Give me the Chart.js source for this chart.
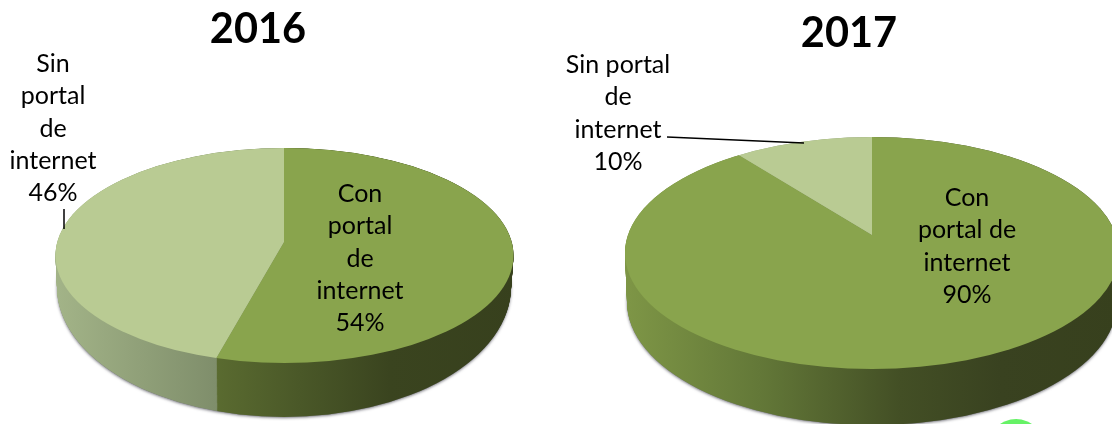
<!DOCTYPE html>
<html>
<head>
<meta charset="utf-8">
<style>
  html, body { margin: 0; padding: 0; background: #fff; overflow: hidden; }
  #page { position: relative; width: 1112px; height: 424px; overflow: hidden; }
  canvas { position: absolute; left: 0; top: 0; }
  #blob { position: absolute; left: 988px; top: 419px; width: 56px; height: 56px; border-radius: 50%; background: #66f266; }
</style>
<script src="https://cdn.jsdelivr.net/npm/chart.js@4"></script>
</head>
<body>
<div id="page">
  <div id="blob"></div>
  <canvas id="pie2016" width="1112" height="424"></canvas>
  <canvas id="pie2017" width="1112" height="424"></canvas>
</div>
<script>
const categories = ['Con portal de internet', 'Sin portal de internet'];
const values2016 = [54, 46];
const values2017 = [90, 10];
const topColors = ['#89a44d', '#b9cb93'];

const labels2016 = [
  { x: 360, y: 194, lines: ['Con', 'portal', 'de', 'internet', '54%'] },
  { x: 53, y: 64, lines: ['Sin', 'portal', 'de', 'internet', '46%'] }
];
const labels2017 = [
  { x: 967, y: 198, lines: ['Con', 'portal de', 'internet', '90%'] },
  { x: 618, y: 65, lines: ['Sin portal', 'de', 'internet', '10%'] }
];

// Plugin: squashes the big flat pie into a tilted disc and extrudes the side wall
const pie3d = {
  id: 'pie3d',
  beforeDatasetsDraw(chart, args, o) {
    const ctx = chart.ctx;
    const arcs = chart.getDatasetMeta(0).data;

    function place(dy) {
      ctx.translate(o.apexX, o.apexY + dy);
      ctx.scale(1, o.k);
      ctx.translate(-arcs[0].x, -arcs[0].y);
    }
    // rim ellipse at step t: 0 is the top face, 1 the bottom of the wall
    function rimPath(t) {
      const mix = (a, b) => a + (b - a) * t;
      ctx.beginPath();
      ctx.ellipse(mix(o.top[0], o.bottom[0]), mix(o.top[1], o.bottom[1]),
        mix(o.top[2], o.bottom[2]), mix(o.top[3], o.bottom[3]), 0, 0, Math.PI * 2);
    }
    function sideGradient(stops) {
      // gradient is given in page x, the arcs are drawn in chart x
      const shift = arcs[0].x - o.apexX;
      const g = ctx.createLinearGradient(stops[0][0] + shift, 0, stops[stops.length - 1][0] + shift, 0);
      const w = stops[stops.length - 1][0] - stops[0][0];
      stops.forEach(s => g.addColorStop((s[0] - stops[0][0]) / w, s[1]));
      return g;
    }
    function drawArc(arc, color, t) {
      const saved = arc.options;
      arc.options = Object.assign({}, saved, { backgroundColor: color, borderWidth: 0 });
      ctx.save();
      rimPath(t);
      ctx.clip();
      place(t * o.depth);
      arc.draw(ctx);
      ctx.restore();
      arc.options = saved;
    }

    // soft shadow under the wall
    ctx.save();
    ctx.shadowColor = 'rgba(70,70,80,0.75)';
    ctx.shadowBlur = 3;
    ctx.shadowOffsetY = 1;
    ctx.fillStyle = '#777';
    rimPath(1);
    ctx.fill();
    ctx.restore();

    const walls = o.walls.map(sideGradient);
    for (let dy = o.depth; dy >= 0; dy--) {
      arcs.forEach((arc, i) => drawArc(arc, walls[i], dy / o.depth));
    }
    arcs.forEach((arc, i) => drawArc(arc, topColors[i], 0));
    return false;
  },
  afterDraw(chart, args, o) {
    const ctx = chart.ctx;
    ctx.save();
    ctx.fillStyle = '#000';
    ctx.textAlign = 'center';
    ctx.textBaseline = 'middle';

    ctx.font = 'bold 41.5px Lato, Carlito, sans-serif';
    ctx.fillText(o.title, o.titleX, o.titleY);

    ctx.font = '25px Lato, Carlito, sans-serif';
    o.labels.forEach(l => {
      l.lines.forEach((t, i) => ctx.fillText(t, l.x, l.y + i * 32.3));
    });

    ctx.strokeStyle = '#000';
    ctx.lineWidth = 1.5;
    ctx.beginPath();
    ctx.moveTo(o.leader[0], o.leader[1]);
    ctx.lineTo(o.leader[2], o.leader[3]);
    ctx.stroke();
    ctx.restore();
  }
};

function makePie(id, values, geom) {
  return new Chart(document.getElementById(id), {
    type: 'pie',
    data: {
      labels: categories,
      datasets: [{ data: values, backgroundColor: topColors, borderWidth: 0 }]
    },
    options: {
      responsive: false,
      animation: false,
      radius: 800,
      plugins: {
        legend: { display: false },
        tooltip: { enabled: false },
        pie3d: geom
      }
    },
    plugins: [pie3d]
  });
}

makePie('pie2016', values2016, {
  top: [284.5, 255.5, 229, 107.5], bottom: [284, 287, 227, 130], depth: 54,
  apexX: 284, apexY: 242, k: 0.44,
  walls: [
    [[216, '#5a6b30'], [300, '#4a5828'], [390, '#3a441f'], [520, '#37401d']],
    [[55, '#a3b488'], [216, '#7f8e6b']]
  ],
  title: '2016', titleX: 258, titleY: 30,
  labels: labels2016,
  leader: [64, 209, 64, 229]
});

makePie('pie2017', values2017, {
  top: [872, 253, 247, 116], bottom: [872, 302, 245, 123], depth: 55,
  apexX: 872, apexY: 235, k: 0.436,
  walls: [
    [[625, '#7e9646'], [760, '#637838'], [900, '#434f25'], [1000, '#394220'], [1120, '#37401d']],
    [[625, '#a3b488'], [900, '#7f8e6b']]
  ],
  title: '2017', titleX: 849, titleY: 34,
  labels: labels2017,
  leader: [667, 137, 804, 143]
});
</script>
</body>
</html>
